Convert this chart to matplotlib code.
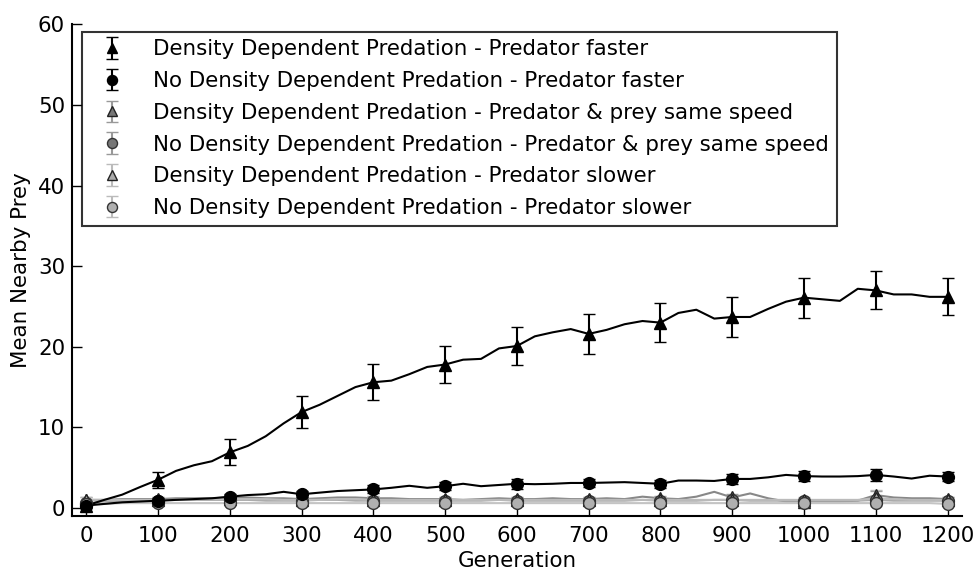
import numpy as np
import matplotlib
matplotlib.use("Agg")
import matplotlib.pyplot as plt

# === Data ===
generations = np.arange(0, 1201, 25)
marker_gens = np.arange(0, 1201, 100)

# Density dependent, predator faster
dd_fast = [0.3, 1.0, 1.65, 2.6, 3.5, 4.6, 5.3, 5.8, 6.9, 7.7, 8.9, 10.5,
           11.9, 12.8, 13.9, 15.0, 15.6, 15.8, 16.6, 17.5, 17.8, 18.4, 18.5, 19.8,
           20.1, 21.3, 21.8, 22.2, 21.6, 22.1, 22.8, 23.2, 23.0, 24.2, 24.6, 23.5,
           23.7, 23.7, 24.7, 25.6, 26.1, 25.9, 25.7, 27.2, 27.0, 26.5, 26.5, 26.2,
           26.2]
dd_fast_err = [0.3, 1.0, 1.6, 1.95, 2.25, 2.35, 2.4, 2.45, 2.4, 2.45, 2.5, 2.35, 2.3]

# No density dependent, predator faster
nodd_fast = [0.3, 0.5, 0.7, 0.8, 0.9, 1.0, 1.1, 1.2, 1.4, 1.6, 1.7, 2.0,
             1.7, 1.9, 2.1, 2.2, 2.3, 2.5, 2.75, 2.5, 2.7, 3.0, 2.7, 2.85,
             3.0, 2.95, 3.0, 3.1, 3.1, 3.15, 3.2, 3.1, 3.0, 3.4, 3.4, 3.35,
             3.6, 3.6, 3.8, 4.1, 3.95, 3.9, 3.9, 3.95, 4.1, 3.9, 3.65, 4.0,
             3.9]
nodd_fast_err = [0.2, 0.3, 0.3, 0.4, 0.5, 0.5, 0.6, 0.5, 0.5, 0.6, 0.6, 0.7, 0.6]

# Density dependent, predator & prey same speed
dd_same = [1.0, 1.0, 1.1, 1.1, 1.1, 1.2, 1.2, 1.2, 1.3, 1.3, 1.2, 1.2,
           1.1, 1.2, 1.3, 1.3, 1.2, 1.2, 1.1, 1.1, 1.1, 1.0, 1.1, 1.2,
           1.1, 1.1, 1.2, 1.1, 1.1, 1.2, 1.1, 1.4, 1.2, 1.1, 1.4, 2.0,
           1.3, 1.8, 1.2, 0.8, 0.8, 0.8, 0.8, 0.9, 1.6, 1.3, 1.2, 1.2,
           1.1]
dd_same_err = [0.3, 0.3, 0.3, 0.3, 0.3, 0.3, 0.3, 0.3, 0.3, 0.4, 0.3, 0.5, 0.3]

# No density dependent, predator & prey same speed
nodd_same = [0.6, 0.8, 0.9, 0.9, 0.9, 1.0, 1.0, 1.0, 1.0, 1.0, 0.9, 0.9,
             0.9, 1.0, 1.0, 0.9, 0.9, 0.9, 0.9, 0.9, 0.9, 0.9, 0.9, 1.0,
             0.9, 0.9, 0.9, 0.9, 0.9, 0.9, 0.9, 1.0, 0.9, 0.9, 0.9, 1.0,
             1.0, 0.9, 0.9, 0.9, 0.9, 0.9, 0.9, 0.9, 1.0, 0.9, 0.9, 0.9,
             0.9]
nodd_same_err = [0.2, 0.2, 0.2, 0.2, 0.2, 0.2, 0.2, 0.2, 0.2, 0.2, 0.2, 0.2, 0.2]

# Density dependent, predator slower
dd_slow = [1.0, 1.0, 1.0, 1.0, 1.0, 1.0, 1.1, 1.1, 1.1, 1.1, 1.1, 1.0,
           1.0, 1.0, 1.1, 1.1, 1.0, 1.0, 1.0, 1.0, 1.0, 1.0, 1.0, 1.0,
           1.0, 1.0, 1.0, 1.0, 1.0, 1.0, 1.0, 1.0, 1.0, 1.0, 1.0, 1.0,
           1.0, 1.0, 1.0, 1.0, 1.0, 1.0, 1.0, 1.0, 1.2, 1.1, 1.0, 1.0,
           1.0]
dd_slow_err = [0.3, 0.3, 0.3, 0.3, 0.3, 0.3, 0.3, 0.3, 0.3, 0.3, 0.3, 1.0, 0.3]

# No density dependent, predator slower
nodd_slow = [0.5, 0.5, 0.6, 0.6, 0.6, 0.6, 0.6, 0.6, 0.6, 0.6, 0.6, 0.6,
             0.6, 0.6, 0.6, 0.6, 0.6, 0.6, 0.6, 0.6, 0.6, 0.6, 0.6, 0.6,
             0.6, 0.6, 0.6, 0.6, 0.6, 0.6, 0.6, 0.6, 0.6, 0.6, 0.6, 0.6,
             0.6, 0.6, 0.6, 0.6, 0.6, 0.6, 0.6, 0.6, 0.6, 0.6, 0.6, 0.6,
             0.5]
nodd_slow_err = [0.2, 0.2, 0.2, 0.2, 0.2, 0.2, 0.2, 0.2, 0.2, 0.2, 0.2, 0.2, 0.2]

labels = [
    'Density Dependent Predation - Predator faster',
    'No Density Dependent Predation - Predator faster',
    'Density Dependent Predation - Predator & prey same speed',
    'No Density Dependent Predation - Predator & prey same speed',
    'Density Dependent Predation - Predator slower',
    'No Density Dependent Predation - Predator slower',
]

# (series, errors, marker, line colour, marker fill, marker edge, errorbar colour)
series = [
    (dd_same, dd_same_err, '^', '#888888', '#777777', '#222222', '#999999'),
    (nodd_same, nodd_same_err, 'o', '#aaaaaa', '#777777', '#333333', '#999999'),
    (dd_slow, dd_slow_err, '^', '#bbbbbb', '#aaaaaa', '#222222', '#bbbbbb'),
    (nodd_slow, nodd_slow_err, 'o', '#c4c4c4', '#b0b0b0', '#333333', '#bbbbbb'),
    (dd_fast, dd_fast_err, '^', 'black', 'black', 'black', 'black'),
    (nodd_fast, nodd_fast_err, 'o', 'black', 'black', 'black', 'black'),
]
order = [2, 3, 4, 5, 0, 1]  # label index for each entry of series

# === Plotting ===
fig = plt.figure(figsize=(9.79, 5.75), dpi=100)
ax = fig.add_axes([0.0735, 0.1026, 0.909, 0.8548])

handles = {}
for (vals, errs, mk, lc, fc, ec, errc), li in zip(series, order):
    vals = np.array(vals)
    ax.plot(generations, vals, color=lc, lw=1.5, zorder=2)
    at_marks = vals[::4]
    h = ax.errorbar(marker_gens, at_marks, yerr=errs, fmt=mk, ms=8.5,
                    mfc=fc, mec=ec, mew=1, ecolor=errc, elinewidth=1.5,
                    capsize=4, capthick=1.5, zorder=3)
    handles[li] = h

ax.set_xlim(-20, 1220)
ax.set_ylim(-1, 60)
ax.set_xticks(np.arange(0, 1201, 100))
ax.set_yticks(np.arange(0, 61, 10))

for side in ['top', 'right']:
    ax.spines[side].set_visible(False)
for side in ['left', 'bottom']:
    ax.spines[side].set_linewidth(1.5)
ax.tick_params(direction='in', length=7, width=1, labelsize=15.4,
               top=False, right=False)
ax.tick_params(axis='x', pad=7)
ax.tick_params(axis='y', pad=5)

ax.set_xlabel('Generation', fontsize=15.4, labelpad=4)
ax.set_ylabel('Mean Nearby Prey', fontsize=15.4, labelpad=5)

leg = ax.legend([handles[i] for i in range(6)], labels, loc='upper left',
                bbox_to_anchor=(0.011, 0.985), numpoints=1, fontsize=15.4,
                markerscale=0.85, frameon=True, fancybox=False, borderpad=0.35,
                labelspacing=0.55, handlelength=2.1, handletextpad=0.9,
                borderaxespad=0.0)
leg.get_frame().set_edgecolor('black')
leg.get_frame().set_linewidth(1.5)

plt.savefig('out.png', dpi=100)
